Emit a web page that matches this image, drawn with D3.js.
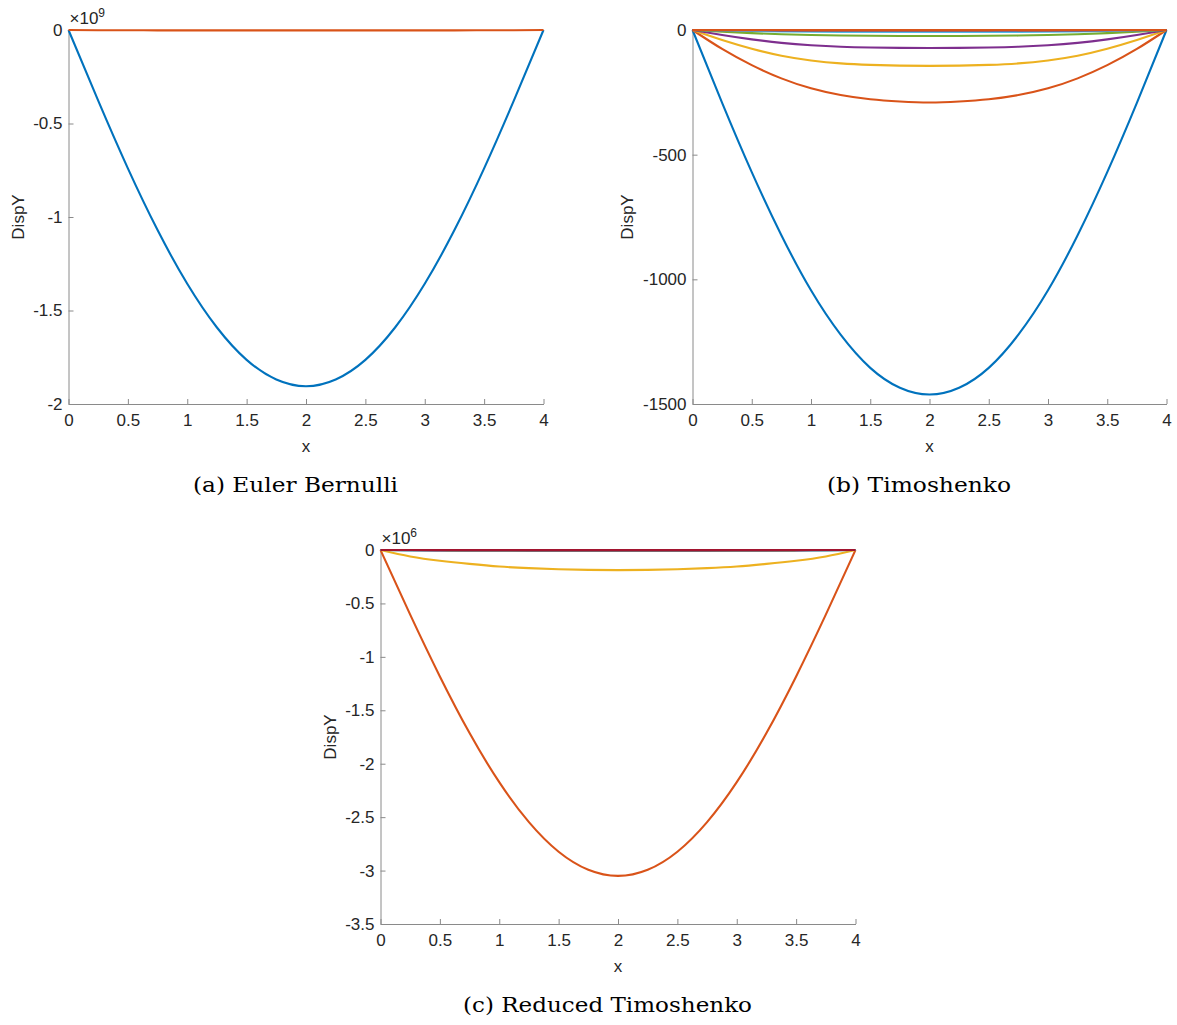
<!DOCTYPE html>
<html>
<head>
<meta charset="utf-8">
<script src="https://cdn.jsdelivr.net/npm/d3@7"></script>
<style>
  body { margin: 0; background: #fff; }
  svg { display: block; }
  .tick text { font-family: "Liberation Sans", Arial, sans-serif; font-size: 17px; fill: #262626; }
  .lab { font-family: "Liberation Sans", Arial, sans-serif; font-size: 17px; fill: #262626; }
  .cap { font-family: "DejaVu Serif", "Liberation Serif", serif; font-size: 20px; fill: #000; }
</style>
</head>
<body>
<div id="chart"></div>
<script>
// x positions along the beam
var xs = [0, 0.25, 0.5, 0.75, 1, 1.25, 1.5, 1.75, 2, 2.25, 2.5, 2.75, 3, 3.25, 3.5, 3.75, 4];
var xTicks = [0, 0.5, 1, 1.5, 2, 2.5, 3, 3.5, 4];

// (a) Euler Bernulli, values x 10^9
var aTicks = [0, -0.5, -1, -1.5, -2];
var aBlue = [0, -0.378, -0.74, -1.07, -1.357, -1.591, -1.764, -1.869, -1.905, -1.869, -1.764, -1.591, -1.357, -1.07, -0.74, -0.378, 0];
var aOrange = [0, -0.001, -0.001, -0.002, -0.002, -0.002, -0.002, -0.002, -0.002, -0.002, -0.002, -0.002, -0.002, -0.002, -0.001, -0.001, 0];

// (b) Timoshenko
var bTicks = [0, -500, -1000, -1500];
var bBlue = [0, -292, -570, -823, -1044, -1222, -1355, -1435, -1462, -1435, -1355, -1222, -1044, -823, -570, -292, 0];
var bOrange = [0, -76, -141, -194, -234, -261, -278, -287, -291, -287, -278, -261, -234, -194, -141, -76, 0];
var bYellow = [0, -40, -75, -103, -122, -134, -140, -143, -144, -143, -140, -134, -122, -103, -75, -40, 0];
var bPurple = [0, -20, -37.5, -51.5, -61, -67, -70, -71.5, -72, -71.5, -70, -67, -61, -51.5, -37.5, -20, 0];
var bGreen = [0, -6.7, -12.5, -17.2, -20.3, -22.3, -23.3, -23.8, -24, -23.8, -23.3, -22.3, -20.3, -17.2, -12.5, -6.7, 0];
var bLightBlue = [0, -2.2, -4.2, -5.7, -6.8, -7.4, -7.8, -7.9, -8, -7.9, -7.8, -7.4, -6.8, -5.7, -4.2, -2.2, 0];
var bDarkRed = [0, -0.6, -1.1, -1.5, -1.8, -1.95, -2.0, -2.05, -2.05, -2.05, -2.0, -1.95, -1.8, -1.5, -1.1, -0.6, 0];
var bOrange2 = [0, -0.1, -0.2, -0.25, -0.3, -0.3, -0.3, -0.3, -0.3, -0.3, -0.3, -0.3, -0.3, -0.25, -0.2, -0.1, 0];

// (c) Reduced Timoshenko, values x 10^6
var cTicks = [0, -0.5, -1, -1.5, -2, -2.5, -3, -3.5];
var cBlue = [0, -0.001, -0.001, -0.001, -0.001, -0.001, -0.001, -0.001, -0.001, -0.001, -0.001, -0.001, -0.001, -0.001, -0.001, -0.001, 0];
var cOrange = [0, -0.605, -1.183, -1.713, -2.173, -2.547, -2.824, -2.993, -3.05, -2.993, -2.824, -2.547, -2.173, -1.713, -1.183, -0.605, 0];
var cYellow = [0, -0.06, -0.10, -0.13, -0.155, -0.17, -0.18, -0.186, -0.188, -0.186, -0.18, -0.17, -0.155, -0.13, -0.10, -0.06, 0];
var cPurple = [0, -0.003, -0.005, -0.006, -0.007, -0.008, -0.008, -0.008, -0.008, -0.008, -0.008, -0.008, -0.007, -0.006, -0.005, -0.003, 0];
var cGreen = [0, -0.002, -0.003, -0.004, -0.004, -0.004, -0.004, -0.004, -0.004, -0.004, -0.004, -0.004, -0.004, -0.004, -0.003, -0.002, 0];
var cLightBlue = [0, -0.001, -0.002, -0.002, -0.002, -0.002, -0.002, -0.002, -0.002, -0.002, -0.002, -0.002, -0.002, -0.002, -0.002, -0.001, 0];
var cDarkRed = [0, 0, -0.001, -0.001, -0.001, -0.001, -0.001, -0.001, -0.001, -0.001, -0.001, -0.001, -0.001, -0.001, -0.001, 0, 0];

var C = {
    blue: '#0072BD', orange: '#D95319', yellow: '#EDB120', purple: '#7E2F8E',
    green: '#77AC30', lightblue: '#4DBEEE', darkred: '#A2142F'
};

var svg = d3.select('#chart').append('svg')
    .attr('width', 1177)
    .attr('height', 1025);

function fmt(d) { return String(+d.toFixed(2)); }

function panel(opt) {
    var x = d3.scaleLinear().domain([0, 4]).range([opt.left, opt.right]);
    var y = d3.scaleLinear().domain([opt.ymin, 0]).range([opt.bottom, opt.top]);

    var g = svg.append('g');

    // X axis, ticks point inward like matlab
    var xa = g.append('g')
        .attr('transform', 'translate(0,' + opt.bottom + ')')
        .call(d3.axisBottom(x).tickValues(xTicks).tickSize(-5).tickPadding(12).tickSizeOuter(0).tickFormat(fmt));
    // Y axis
    var ya = g.append('g')
        .attr('transform', 'translate(' + opt.left + ',0)')
        .call(d3.axisLeft(y).tickValues(opt.yTicks).tickSize(-5).tickPadding(6).tickSizeOuter(0).tickFormat(fmt));
    [xa, ya].forEach(function(a) {
        a.select('.domain').attr('stroke', '#8a8a8a').attr('stroke-width', 1);
        a.selectAll('.tick line').attr('stroke', '#8a8a8a');
    });
    xa.selectAll('.tick text').attr('dy', '0.6em');

    var line = d3.line()
        .x(function(d, i) { return x(xs[i]); })
        .y(function(d) { return y(d); })
        .curve(d3.curveNatural);

    opt.series.forEach(function(s) {
        g.append('path')
            .datum(s.values)
            .attr('fill', 'none')
            .attr('stroke', s.color)
            .attr('stroke-width', 2.1)
            .attr('stroke-linejoin', 'round')
            .attr('d', line);
    });

    // exponent label
    if (opt.exp) {
        var t = g.append('text')
            .attr('class', 'lab')
            .attr('x', opt.left + 1)
            .attr('y', opt.top - 6);
        t.append('tspan').text('\u00d710');
        t.append('tspan').attr('dy', -7).style('font-size', '12px').text(opt.exp);
    }

    g.append('text')
        .attr('class', 'lab')
        .attr('x', (opt.left + opt.right) / 2)
        .attr('y', opt.bottom + 48)
        .attr('text-anchor', 'middle')
        .text('x');

    g.append('text')
        .attr('class', 'lab')
        .attr('transform', 'translate(' + opt.ylabX + ',' + ((opt.top + opt.bottom) / 2) + ') rotate(-90)')
        .attr('text-anchor', 'middle')
        .text('DispY');

    g.append('text')
        .attr('class', 'cap')
        .attr('x', opt.capX)
        .attr('y', opt.capY)
        .attr('text-anchor', 'middle')
        .attr('textLength', opt.capW)
        .attr('lengthAdjust', 'spacingAndGlyphs')
        .text(opt.caption);
}

panel({
    left: 68.5, right: 543.5, top: 30, bottom: 404, ymin: -2,
    yTicks: aTicks, exp: '9', ylabX: 24,
    caption: '(a) Euler Bernulli', capX: 295.5, capY: 492, capW: 205,
    series: [
        { values: aBlue, color: C.blue },
        { values: aOrange, color: C.orange }
    ]
});

panel({
    left: 692.5, right: 1166.5, top: 30, bottom: 404, ymin: -1500,
    yTicks: bTicks, exp: null, ylabX: 633,
    caption: '(b) Timoshenko', capX: 919, capY: 492, capW: 184,
    series: [
        { values: bBlue, color: C.blue },
        { values: bOrange, color: C.orange },
        { values: bYellow, color: C.yellow },
        { values: bPurple, color: C.purple },
        { values: bGreen, color: C.green },
        { values: bLightBlue, color: C.lightblue },
        { values: bDarkRed, color: C.darkred },
        { values: bOrange2, color: C.orange }
    ]
});

panel({
    left: 380.5, right: 855.5, top: 550, bottom: 924, ymin: -3.5,
    yTicks: cTicks, exp: '6', ylabX: 336,
    caption: '(c) Reduced Timoshenko', capX: 607.5, capY: 1012, capW: 289,
    series: [
        { values: cBlue, color: C.blue },
        { values: cOrange, color: C.orange },
        { values: cYellow, color: C.yellow },
        { values: cPurple, color: C.purple },
        { values: cGreen, color: C.green },
        { values: cLightBlue, color: C.lightblue },
        { values: cDarkRed, color: C.darkred }
    ]
});
</script>
</body>
</html>
